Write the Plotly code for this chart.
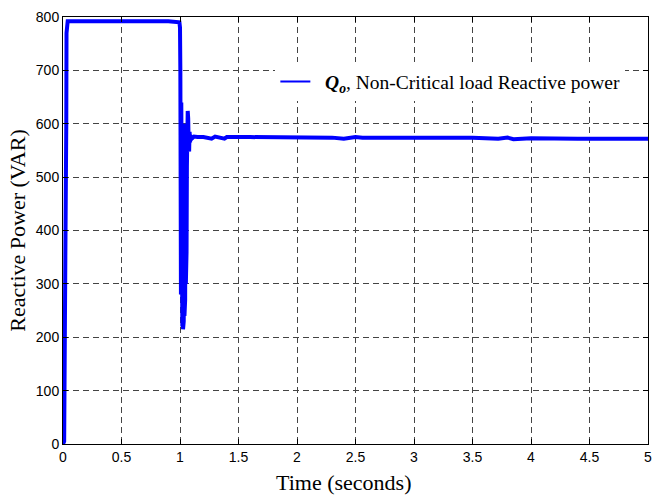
import plotly.graph_objects as go

# Time (s) and reactive power (VAR)
time_s = [0.000, 0.010, 0.020, 0.022, 0.028, 0.030, 0.035, 0.040,
          0.100, 0.500, 0.900, 0.995, 1.000, 1.003,
          1.005, 1.008, 1.011, 1.014, 1.017, 1.020, 1.023, 1.026, 1.029,
          1.032, 1.035, 1.038, 1.041, 1.044, 1.047, 1.050, 1.053, 1.056,
          1.059, 1.062, 1.066, 1.070, 1.074,
          1.078, 1.082, 1.086, 1.090, 1.100, 1.120, 1.150, 1.200, 1.270,
          1.300, 1.380, 1.400, 1.600, 2.000, 2.300, 2.400, 2.500, 2.560,
          3.000, 3.500, 3.720, 3.800, 3.850, 4.000, 4.400, 4.700, 5.000]
q_var = [0, 5, 350, 380, 600, 770, 790, 792,
         792, 792, 792, 790, 780, 700,
         630, 280, 640, 240, 610, 220, 590, 215, 560,
         230, 600, 240, 520, 270, 560, 300, 480, 360,
         520, 560, 624, 610, 560,
         548, 585, 565, 578, 572, 576, 575, 575, 572,
         576, 572, 575, 575, 575, 574, 572, 575, 574,
         574, 574, 572, 574, 571, 573, 572, 572, 572]

x_ticks = [0, 0.5, 1, 1.5, 2, 2.5, 3, 3.5, 4, 4.5, 5]
y_ticks = [0, 100, 200, 300, 400, 500, 600, 700, 800]

legend_label = "&nbsp;&nbsp;<b><i>Q<sub>o</sub></i></b>, Non-Critical load Reactive power"

fig = go.Figure()
fig.add_trace(go.Scatter(
    x=time_s, y=q_var, mode="lines",
    line=dict(color="#0000FF", width=4),
    showlegend=False, name="Qo",
))
# legend entry drawn with a thinner line, as in the reference
fig.add_trace(go.Scatter(
    x=[None], y=[None], mode="lines",
    line=dict(color="#0000FF", width=2),
    name=legend_label,
))

axis_common = dict(
    showline=True, linecolor="black", linewidth=1, mirror="ticks",
    ticks="inside", ticklen=5, tickcolor="black",
    showgrid=True, gridcolor="#444444", griddash="6px,4px", gridwidth=1,
    zeroline=False, ticklabeloverflow="allow",
    tickfont=dict(family="Liberation Sans, Arial", size=14, color="black"),
)

fig.update_xaxes(range=[0, 5], tickvals=x_ticks, ticktext=[f"{v:g}" for v in x_ticks],
                 **axis_common)
fig.update_yaxes(range=[0, 800], tickvals=y_ticks,
                 title=dict(text="Reactive Power (VAR)", standoff=4,
                            font=dict(family="Liberation Serif, Times New Roman", size=22, color="black")),
                 **axis_common)

fig.add_annotation(text="Time (seconds)", xref="paper", yref="paper",
                   x=0.479, y=-0.091, xanchor="center", yanchor="middle",
                   showarrow=False,
                   font=dict(family="Liberation Serif, Times New Roman", size=22, color="black"))

fig.update_layout(
    width=653, height=495,
    margin=dict(l=63, r=1, t=17, b=51),
    paper_bgcolor="white", plot_bgcolor="white",
    showlegend=True,
    legend=dict(x=0.363, y=0.848, xanchor="left", yanchor="middle",
                bgcolor="white", borderwidth=0,
                font=dict(family="Liberation Serif, Times New Roman", size=19.5, color="black")),
)

fig.write_html("out.html")
